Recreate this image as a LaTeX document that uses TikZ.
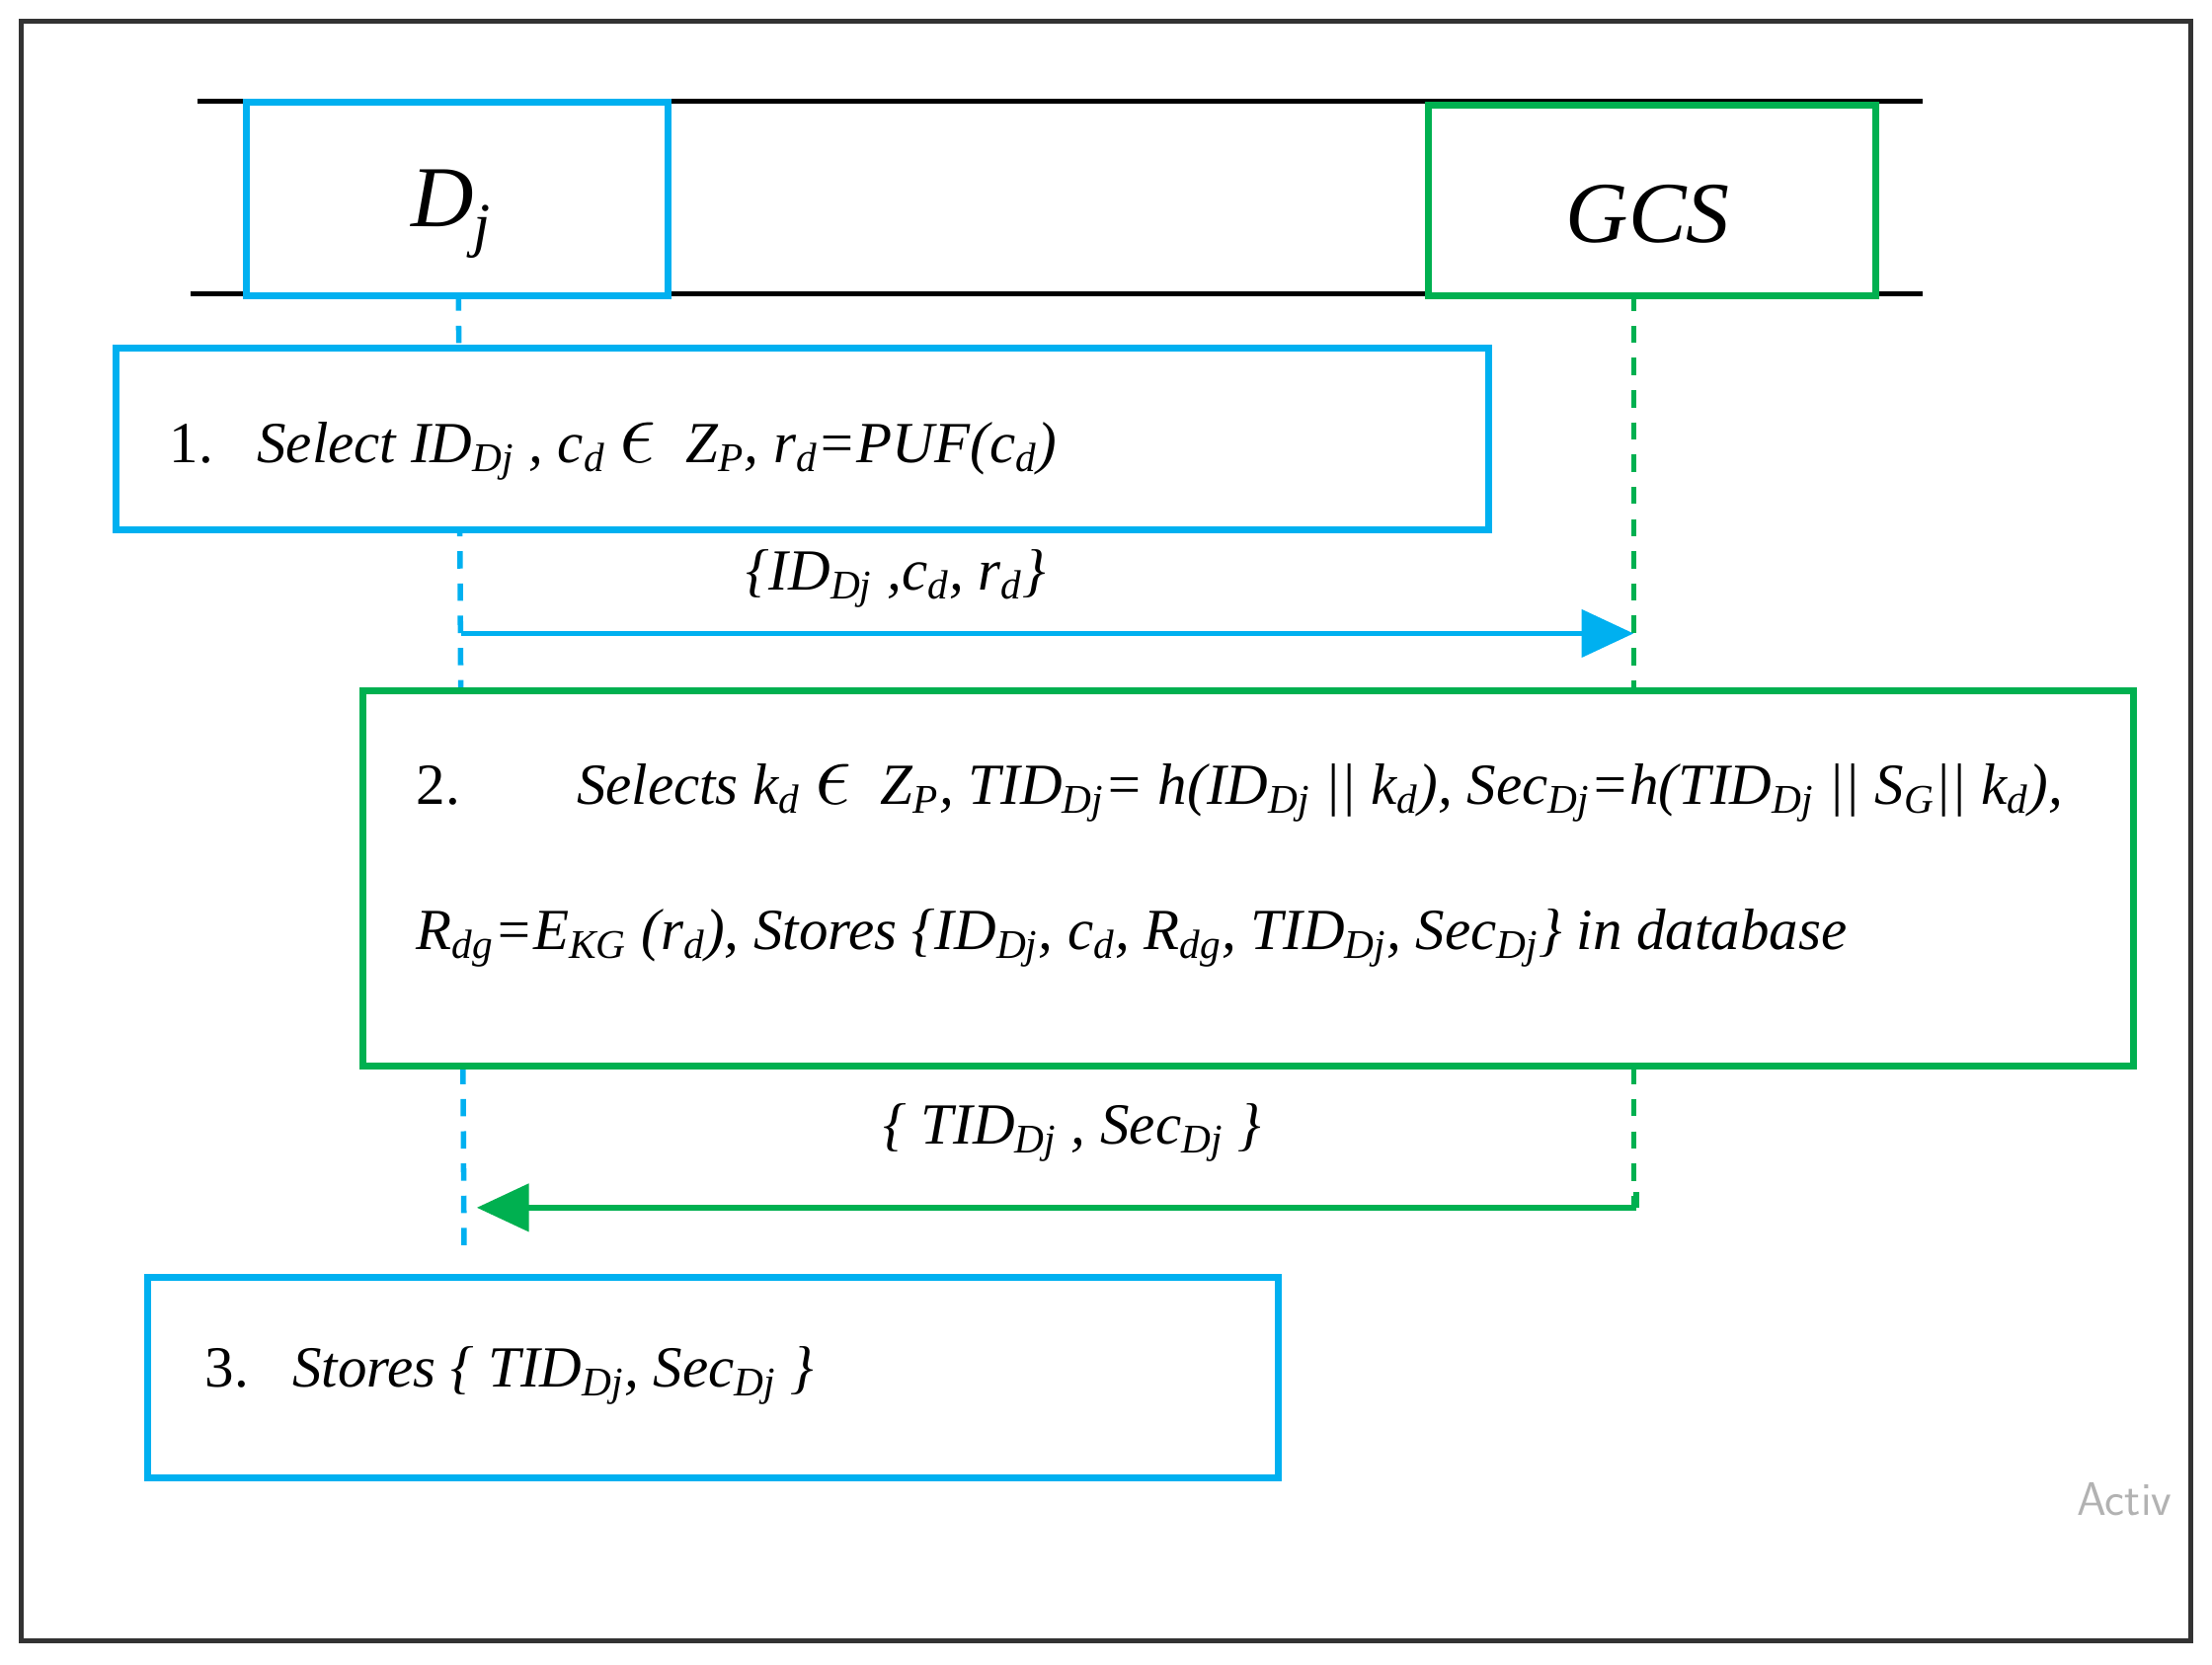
\documentclass[tikz,border=0pt]{standalone}
\usepackage{fontspec}
\setmainfont{Liberation Serif}
\usetikzlibrary{arrows.meta}
\definecolor{cy}{RGB}{0,176,240}
\definecolor{gr}{RGB}{0,176,80}
\newcommand\sbs[1]{\textsubscript{#1}}
\newcommand\ep{\scalebox{1.5}{$\epsilon$}}
\begin{document}
\begin{tikzpicture}[x=0.02cm,y=-0.02cm,
  box/.style={draw=#1,line width=2.8pt,fill=white},
  life/.style={draw=#1,line width=2.2pt,dash pattern=on 7pt off 6pt},
  txt/.style={font=\fontsize{23.5}{27}\selectfont\itshape,anchor=west,inner sep=0},
  msg/.style={line width=2.2pt,-{Triangle[length=21pt,width=19pt]}},
  hd/.style={font=\fontsize{35}{40}\selectfont\itshape,inner sep=0}]
\useasboundingbox (0,0) rectangle (1568,1180);
\draw[line width=2pt,draw=black!80] (15,15) rectangle (1553,1163);
\draw[line width=2pt] (140,72) -- (1363,72);
\draw[line width=2pt] (135,208) -- (1363,208);
\coordinate (dtop) at (325,208); \coordinate (dbot) at (329,890);
\coordinate (gtop) at (1158,208); \coordinate (gbot) at (1158,855);
\draw[life=cy] (dtop) -- (dbot);
\draw[life=gr] (gtop) -- (gbot);
\node[box=cy,minimum width=299*0.02cm,minimum height=137*0.02cm,anchor=north west] (dj) at (172,70) {};
\node[hd] (djt) at (320,152) {D\sbs{j}};
\node[box=gr,minimum width=317*0.02cm,minimum height=135*0.02cm,anchor=north west] (gcs) at (1010,72) {};
\node[hd] (gcst) at (1168,152) {GCS};
\node[box=cy,minimum width=973*0.02cm,minimum height=129*0.02cm,anchor=north west] (b1) at (80,244) {};
\node[txt] (t1) at (120,320) {\upshape 1.\enspace\ \itshape Select ID\sbs{Dj} , c\sbs{d} \ep\ \ Z\sbs{P}, r\sbs{d}=PUF(c\sbs{d})};
\coordinate (m1s) at (327,449); \coordinate (m1e) at (1158,449);
\draw[msg,draw=cy,fill=cy] (m1s) -- (m1e);
\node[txt,anchor=center] (l1) at (635,410) {\{ID\sbs{Dj} ,c\sbs{d}, r\sbs{d}\}};
\node[box=gr,minimum width=1255*0.02cm,minimum height=266*0.02cm,anchor=north west] (b2) at (255,487) {};
\node[txt] (t2a) at (295,562) {\upshape 2.\qquad\itshape Selects k\sbs{d} \ep\ \ Z\sbs{P}, TID\sbs{Dj}= h(ID\sbs{Dj} || k\sbs{d}), Sec\sbs{Dj}=h(TID\sbs{Dj} || S\sbs{G}|| k\sbs{d}),};
\node[txt] (t2b) at (295,665) {R\sbs{dg}=E\sbs{KG} (r\sbs{d}), Stores \{ID\sbs{Dj}, c\sbs{d}, R\sbs{dg}, TID\sbs{Dj}, Sec\sbs{Dj}\} in database};
\coordinate (m2s) at (1160,845); \coordinate (m2c) at (1160,856); \coordinate (m2e) at (338,856);
\draw[line width=2.2pt,draw=gr] (m2s) -- (m2c);
\draw[msg,draw=gr,fill=gr] (m2c) -- (m2e);
\node[txt,anchor=center] (l2) at (760,803) {\{ TID\sbs{Dj} , Sec\sbs{Dj} \}};
\node[box=cy,minimum width=802*0.02cm,minimum height=142*0.02cm,anchor=north west] (b3) at (102,903) {};
\node[txt] (t3) at (145,975) {\upshape 3.\enspace\ \itshape Stores \{ TID\sbs{Dj}, Sec\sbs{Dj} \}};
\begin{scope}
\clip (0,0) rectangle (1551,1180);
\node[anchor=west,inner sep=0,text=black!30,font=\fontsize{19}{22}\selectfont\sffamily] (wm) at (1472,1063) {Activ};
\end{scope}
\end{tikzpicture}
\end{document}
